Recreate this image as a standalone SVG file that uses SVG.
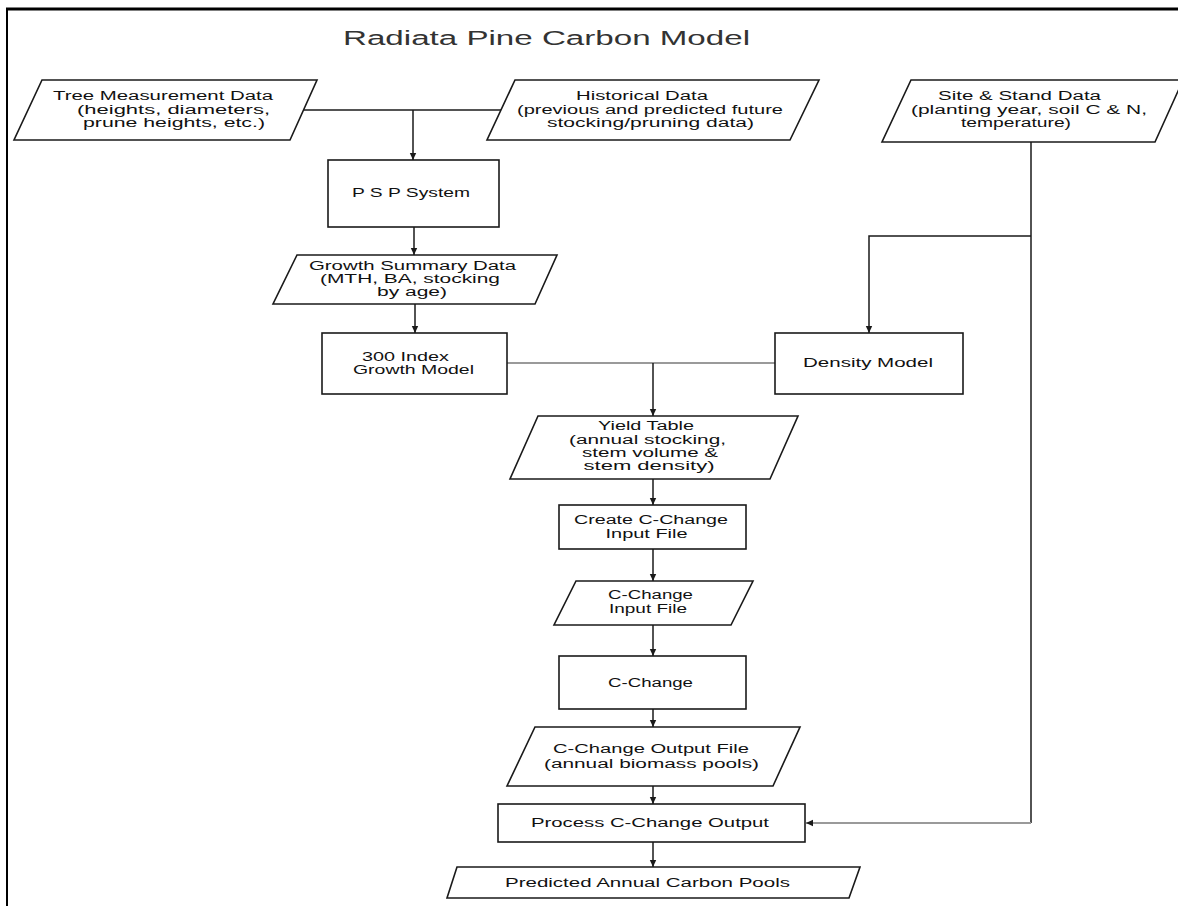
<svg xmlns="http://www.w3.org/2000/svg" width="1178" height="906" viewBox="0 0 1178 906">
  <style>
    .shape { fill: #ffffff; stroke: #1a1a1a; stroke-width: 1.6; }
    .lbl { font-family: "Liberation Sans", Arial, sans-serif; font-size: 12px; fill: #111111; text-anchor: middle; }
    .title { font-family: "Liberation Sans", Arial, sans-serif; font-size: 19.5px; fill: #333333; text-anchor: start; }
    .wire { fill: none; stroke: #1a1a1a; stroke-width: 1.5; }
    .wire-grey { fill: none; stroke: #9a9a9a; stroke-width: 2.2; }
    .frame { stroke: #000000; fill: none; }
  </style>
  <defs>
    <marker id="arrow" markerUnits="userSpaceOnUse" markerWidth="8" markerHeight="8" refX="7" refY="4" orient="auto">
      <path d="M0,0.8 L7,4 L0,7.2 z" fill="#1a1a1a"/>
    </marker>
  </defs>

  <rect width="1178" height="906" fill="#ffffff"/>

  <!-- page frame: top and left rules -->
  <line class="frame" x1="6" y1="9" x2="1178" y2="9" stroke-width="3"/>
  <line class="frame" x1="7" y1="8" x2="7" y2="906" stroke-width="2"/>

  <text class="title" x="343" y="45" textLength="407" lengthAdjust="spacingAndGlyphs">Radiata Pine Carbon Model</text>

  <!-- connectors -->
  <g id="connectors">
    <line class="wire" x1="304" y1="110" x2="501" y2="110"/>
    <line class="wire" x1="413" y1="110" x2="413" y2="160" marker-end="url(#arrow)"/>
    <line class="wire" x1="414" y1="227" x2="414" y2="255" marker-end="url(#arrow)"/>
    <line class="wire" x1="415" y1="304" x2="415" y2="333" marker-end="url(#arrow)"/>
    <line class="wire-grey" x1="507" y1="363" x2="775" y2="363"/>
    <line class="wire" x1="653" y1="363" x2="653" y2="416" marker-end="url(#arrow)"/>
    <line class="wire" x1="1031" y1="142" x2="1031" y2="823"/>
    <polyline class="wire" points="1031,236 869,236 869,333" marker-end="url(#arrow)"/>
    <line class="wire-grey" x1="1031" y1="823" x2="806" y2="823" marker-end="url(#arrow)"/>
    <line class="wire" x1="653" y1="479" x2="653" y2="505" marker-end="url(#arrow)"/>
    <line class="wire" x1="653" y1="549" x2="653" y2="581" marker-end="url(#arrow)"/>
    <line class="wire" x1="653" y1="625" x2="653" y2="656" marker-end="url(#arrow)"/>
    <line class="wire" x1="653" y1="709" x2="653" y2="727" marker-end="url(#arrow)"/>
    <line class="wire" x1="653" y1="786" x2="653" y2="804" marker-end="url(#arrow)"/>
    <line class="wire" x1="653" y1="842" x2="653" y2="867" marker-end="url(#arrow)"/>
  </g>

  <g id="tree-measurement-data">
    <polygon class="shape" points="42,80 317,80 290,140 14,140"/>
    <text class="lbl" x="163" y="100" textLength="220" lengthAdjust="spacingAndGlyphs">Tree Measurement Data</text>
    <text class="lbl" x="173.5" y="113.5" textLength="193" lengthAdjust="spacingAndGlyphs">(heights, diameters,</text>
    <text class="lbl" x="174" y="127" textLength="182" lengthAdjust="spacingAndGlyphs">prune heights, etc.)</text>
  </g>

  <g id="historical-data">
    <polygon class="shape" points="515,80 819,80 790,140 487,140"/>
    <text class="lbl" x="642" y="100" textLength="132" lengthAdjust="spacingAndGlyphs">Historical Data</text>
    <text class="lbl" x="650" y="113.5" textLength="266" lengthAdjust="spacingAndGlyphs">(previous and predicted future</text>
    <text class="lbl" x="650.5" y="127" textLength="207" lengthAdjust="spacingAndGlyphs">stocking/pruning data)</text>
  </g>

  <g id="site-stand-data">
    <polygon class="shape" points="911,80 1183,80 1155,142 882,142"/>
    <text class="lbl" x="1019.5" y="100" textLength="163" lengthAdjust="spacingAndGlyphs">Site &amp; Stand Data</text>
    <text class="lbl" x="1029" y="113.5" textLength="236" lengthAdjust="spacingAndGlyphs">(planting year, soil C &amp; N,</text>
    <text class="lbl" x="1016" y="127" textLength="110" lengthAdjust="spacingAndGlyphs">temperature)</text>
  </g>

  <g id="psp-system">
    <rect class="shape" x="328" y="160" width="171" height="67"/>
    <text class="lbl" x="411" y="197" textLength="118" lengthAdjust="spacingAndGlyphs">P S P System</text>
  </g>

  <g id="growth-summary-data">
    <polygon class="shape" points="297,255 557,255 535,304 273,304"/>
    <text class="lbl" x="412.5" y="270" textLength="207" lengthAdjust="spacingAndGlyphs">Growth Summary Data</text>
    <text class="lbl" x="410" y="283" textLength="180" lengthAdjust="spacingAndGlyphs">(MTH, BA, stocking</text>
    <text class="lbl" x="412" y="296" textLength="70" lengthAdjust="spacingAndGlyphs">by age)</text>
  </g>

  <g id="index-300-growth-model">
    <rect class="shape" x="322" y="333" width="185" height="61"/>
    <text class="lbl" x="405.5" y="361" textLength="87" lengthAdjust="spacingAndGlyphs">300 Index</text>
    <text class="lbl" x="413.5" y="374" textLength="121" lengthAdjust="spacingAndGlyphs">Growth Model</text>
  </g>

  <g id="density-model">
    <rect class="shape" x="775" y="333" width="188" height="61"/>
    <text class="lbl" x="868" y="367" textLength="130" lengthAdjust="spacingAndGlyphs">Density Model</text>
  </g>

  <g id="yield-table">
    <polygon class="shape" points="538,416 798,416 770,479 510,479"/>
    <text class="lbl" x="646" y="430" textLength="96" lengthAdjust="spacingAndGlyphs">Yield Table</text>
    <text class="lbl" x="647.5" y="443.5" textLength="157" lengthAdjust="spacingAndGlyphs">(annual stocking,</text>
    <text class="lbl" x="650" y="456.5" textLength="136" lengthAdjust="spacingAndGlyphs">stem volume &amp;</text>
    <text class="lbl" x="649" y="469.5" textLength="131" lengthAdjust="spacingAndGlyphs">stem density)</text>
  </g>

  <g id="create-c-change-input-file">
    <rect class="shape" x="559" y="505" width="187" height="44"/>
    <text class="lbl" x="651" y="523.5" textLength="154" lengthAdjust="spacingAndGlyphs">Create C-Change</text>
    <text class="lbl" x="646.5" y="537.5" textLength="82" lengthAdjust="spacingAndGlyphs">Input File</text>
  </g>

  <g id="c-change-input-file">
    <polygon class="shape" points="576,581 753,581 731,625 554,625"/>
    <text class="lbl" x="650.5" y="598.5" textLength="85" lengthAdjust="spacingAndGlyphs">C-Change</text>
    <text class="lbl" x="648" y="612.5" textLength="78" lengthAdjust="spacingAndGlyphs">Input File</text>
  </g>

  <g id="c-change">
    <rect class="shape" x="559" y="656" width="187" height="53"/>
    <text class="lbl" x="650.5" y="686.5" textLength="85" lengthAdjust="spacingAndGlyphs">C-Change</text>
  </g>

  <g id="c-change-output-file">
    <polygon class="shape" points="535,727 800,727 773,786 507,786"/>
    <text class="lbl" x="651" y="753" textLength="196" lengthAdjust="spacingAndGlyphs">C-Change Output File</text>
    <text class="lbl" x="651.5" y="768" textLength="215" lengthAdjust="spacingAndGlyphs">(annual biomass pools)</text>
  </g>

  <g id="process-c-change-output">
    <rect class="shape" x="498" y="804" width="307" height="38"/>
    <text class="lbl" x="650" y="827" textLength="238" lengthAdjust="spacingAndGlyphs">Process C-Change Output</text>
  </g>

  <g id="predicted-annual-carbon-pools">
    <polygon class="shape" points="457,867 860,867 849,898 447,898"/>
    <text class="lbl" x="647.5" y="887" textLength="285" lengthAdjust="spacingAndGlyphs">Predicted Annual Carbon Pools</text>
  </g>
</svg>
